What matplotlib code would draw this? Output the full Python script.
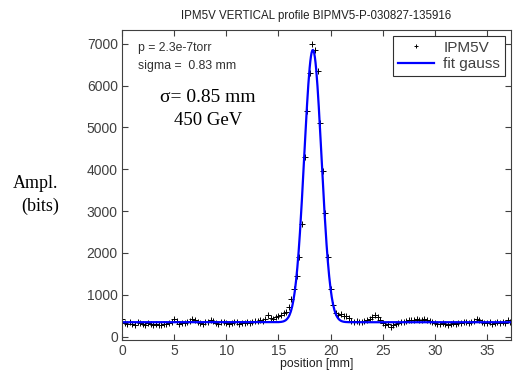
import numpy as np
import matplotlib.pyplot as plt

# measured profile, one sample every 0.25 mm
step_mm = 0.25
amplitude = [
    420, 330, 300, 360, 310, 290, 340, 320, 300, 290, 330, 310,
    280, 300, 270, 290, 310, 300, 330, 360, 420, 380, 310, 330,
    320, 350, 380, 420, 390, 350, 330, 310, 340, 360, 400, 370,
    330, 310, 340, 350, 320, 300, 330, 350, 340, 310, 320, 330,
    350, 330, 360, 380, 370, 400, 380, 430, 510, 450, 430, 470,
    490, 520, 560, 600, 700, 900, 1150, 1450, 1900, 2700, 4300, 5400,
    6300, 7000, 6850, 6350, 5100, 3950, 2950, 1900, 1150, 750, 560, 520,
    540, 500, 490, 440, 380, 360, 370, 350, 360, 380, 400, 420,
    460, 520, 480, 400, 330, 280, 300, 240, 290, 300, 320, 340,
    360, 380, 400, 390, 410, 420, 400, 390, 420, 400, 380, 350,
    330, 310, 300, 320, 310, 290, 300, 320, 310, 330, 320, 340,
    350, 330, 360, 380, 430, 400, 350, 330, 320, 340, 310, 330,
    350, 320, 340, 330, 410, 360,
]
position = np.arange(len(amplitude)) * step_mm

# gaussian fit parameters
fit_base = 345
fit_amp = 6510
fit_mu = 18.3
fit_sigma = 0.83

W, H = 513, 375
fig = plt.figure(figsize=(W / 100, H / 100), dpi=100)
ax = fig.add_axes([122 / W, 35 / H, (511 - 122) / W, (340 - 30) / H])

xs = np.linspace(0, 37.3, 600)
fit = fit_base + fit_amp * np.exp(-((xs - fit_mu) ** 2) / (2 * fit_sigma ** 2))

ax.plot(position, amplitude, "+", color="black", markersize=4, markeredgewidth=0.7, label="IPM5V")
ax.plot(xs, fit, color="#0000ff", linewidth=1.6, label="fit gauss")

ax.set_xlim(0, 37.3)
ax.set_ylim(-80, 7330)
ax.set_xticks(np.arange(0, 36, 5))
ax.set_yticks(np.arange(0, 7001, 1000))

gray = "#404040"
for s in ax.spines.values():
    s.set_color(gray)
    s.set_linewidth(0.8)
ax.tick_params(direction="in", length=4, width=0.8, colors=gray, top=True, right=True,
               labelsize=10, labelcolor=gray, pad=3)
for lbl in ax.get_xticklabels() + ax.get_yticklabels():
    lbl.set_family("Liberation Sans")

ax.set_title("IPM5V VERTICAL profile BIPMV5-P-030827-135916", fontsize=8.3,
             family="Liberation Sans", color="#202020", pad=8)
ax.set_xlabel("position [mm]", fontsize=8.8, family="Liberation Sans", color="#202020", labelpad=0)

leg = ax.legend(loc="upper right", fancybox=False, edgecolor="#303030", framealpha=1,
                prop={"family": "Liberation Sans", "size": 11}, borderpad=0.3,
                handlelength=2.4, handletextpad=0.6, labelspacing=0.15, borderaxespad=0.4,
                markerscale=0.8)
leg.get_frame().set_linewidth(0.8)
for t in leg.get_texts():
    t.set_color(gray)

ax.text(138 / W, 1 - 48 / H, "p = 2.3e-7torr", transform=fig.transFigure, fontsize=8.8,
        family="Liberation Sans", color="#303030", va="center")
ax.text(138 / W, 1 - 66 / H, "sigma =  0.83 mm", transform=fig.transFigure, fontsize=8.8,
        family="Liberation Sans", color="#303030", va="center")

fig.text(208 / W, 1 - 98 / H, "σ= 0.85 mm", fontsize=14, family="Liberation Serif",
         ha="center", va="center")
fig.text(208 / W, 1 - 120 / H, "450 GeV", fontsize=13.5, family="Liberation Serif",
         ha="center", va="center")

fig.text(36 / W, 1 - 183 / H, "Ampl.", fontsize=13, family="Liberation Serif",
         ha="center", va="center")
fig.text(40 / W, 1 - 206 / H, "(bits)", fontsize=13, family="Liberation Serif",
         ha="center", va="center")

fig.savefig("out.png", dpi=100)
